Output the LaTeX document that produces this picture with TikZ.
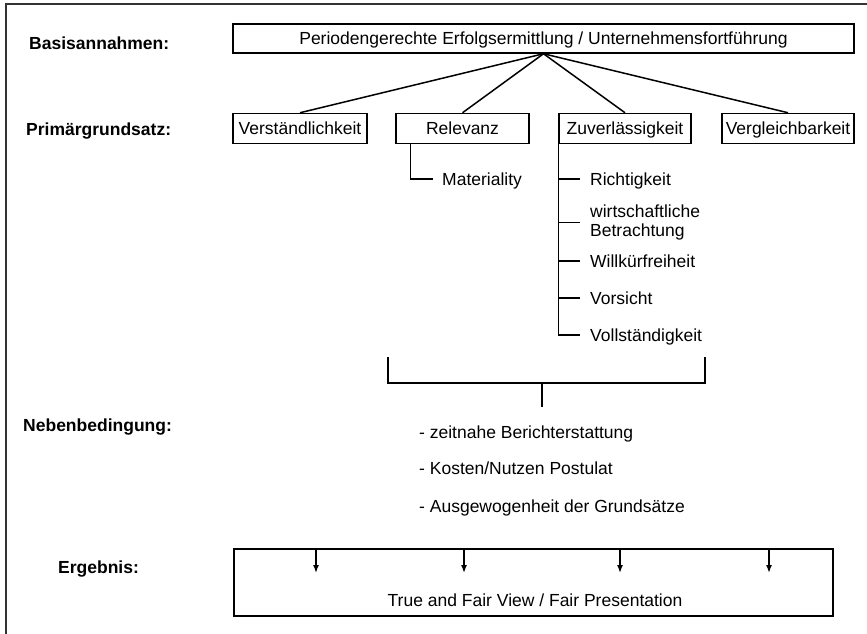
\documentclass[tikz,border=0pt]{standalone}
\usepackage{fontspec}
\setmainfont{Liberation Sans}
\usetikzlibrary{arrows.meta}
\tikzset{
  base/.style={font=\fontsize{17.5}{19.5}\selectfont},
  head/.style={base,font=\fontsize{17.5}{19.5}\selectfont\bfseries,inner sep=0pt,anchor=base west},
  plain/.style={base,inner sep=0pt,anchor=base west},
  box/.style={base,draw,line width=1.5pt,rectangle,inner sep=0pt,text height=12.5pt,text depth=0pt},
  lbl/.style={base,inner sep=0pt,text height=12.5pt,text depth=0pt,anchor=west},
  conn/.style={line width=1.5pt},
  frameline/.style={line width=2pt,draw=black!80},
  arr/.style={line width=1.5pt,-{Latex[length=8pt,width=6pt]}}
}
\begin{document}
\begin{tikzpicture}[x=1pt,y=-1pt]
\useasboundingbox (0,0) rectangle (867,634);
% frame
\coordinate (fbl) at (6,634);
\coordinate (ftl) at (6,4);
\coordinate (ftr) at (867,4);
\draw[frameline] (fbl) -- (ftl) -- (ftr);

% row labels
\node[head] (hbasis) at (29,49) {Basisannahmen:};
\node[head] (hprim) at (26,135) {Primärgrundsatz:};
\node[head] (hneben) at (23,431) {Nebenbedingung:};
\node[head] (herg) at (58,573) {Ergebnis:};

% top box
\node[box,minimum width=621pt,minimum height=29pt] (top) at (543.5,38.5)
  {Periodengerechte Erfolgsermittlung / Unternehmensfortführung};

% primary boxes
\node[box,minimum width=134pt,minimum height=30pt] (verst) at (300,128.5) {Verständlichkeit};
\node[box,minimum width=133pt,minimum height=30pt] (rel) at (462.5,128.5) {Relevanz};
\node[box,minimum width=132pt,minimum height=30pt] (zuv) at (625,128.5) {Zuverlässigkeit};
\node[box,minimum width=132pt,minimum height=30pt] (verg) at (788,128.5) {Vergleichbarkeit};

\draw[conn] (top.south) -- (verst.north);
\draw[conn] (top.south) -- (rel.north);
\draw[conn] (top.south) -- (zuv.north);
\draw[conn] (top.south) -- (verg.north);

% Relevanz sub item
\node[lbl] (mat) at (442,179) {Materiality};
\draw[conn] ([xshift=15pt]rel.south west) |- ([xshift=-9pt]mat.west);

% Zuverlaessigkeit sub items
\node[lbl] (richt) at (590,179) {Richtigkeit};
\node[base,inner sep=0pt,anchor=west,align=left] (wirt) at (590,222.5) {wirtschaftliche\\[0pt]Betrachtung};
\node[lbl] (willk) at (590,261) {Willkürfreiheit};
\node[lbl] (vors) at (590,298) {Vorsicht};
\node[lbl] (voll) at (590,335) {Vollständigkeit};

\draw[conn] (zuv.south west) |- ([xshift=-10pt]voll.west);
\draw[conn] (richt.west -| zuv.south west) -- ([xshift=-10pt]richt.west);
\draw[conn] (wirt.west -| zuv.south west) -- ([xshift=-10pt]wirt.west);
\draw[conn] (willk.west -| zuv.south west) -- ([xshift=-10pt]willk.west);
\draw[conn] (vors.west -| zuv.south west) -- ([xshift=-10pt]vors.west);

% bracket
\coordinate (bl) at (388,357);
\coordinate (br) at (705,357);
\coordinate (bbl) at (388,383);
\coordinate (bbr) at (705,383);
\coordinate (bm) at (542,383);
\coordinate (bs) at (542,407);
\draw[conn] (bl) -- (bbl) -- (bbr) -- (br);
\draw[conn] (bm) -- (bs);

% Nebenbedingungen
\node[plain] (n1) at (419,438) {- zeitnahe Berichterstattung};
\node[plain] (n2) at (419,474) {- Kosten/Nutzen Postulat};
\node[plain] (n3) at (419,512) {- Ausgewogenheit der Grundsätze};

% result box
\node[draw,line width=1.5pt,rectangle,inner sep=0pt,minimum width=599pt,minimum height=67pt] (res) at (533.5,582.5) {};
\node[lbl,anchor=center] (restxt) at (535,600) {True and Fair View / Fair Presentation};
\coordinate (a1s) at (316,549); \coordinate (a1e) at (316,573);
\coordinate (a2s) at (464,549); \coordinate (a2e) at (464,573);
\coordinate (a3s) at (620,549); \coordinate (a3e) at (620,573);
\coordinate (a4s) at (769,549); \coordinate (a4e) at (769,573);
\draw[arr] (a1s) -- (a1e);
\draw[arr] (a2s) -- (a2e);
\draw[arr] (a3s) -- (a3e);
\draw[arr] (a4s) -- (a4e);
\end{tikzpicture}
\end{document}
